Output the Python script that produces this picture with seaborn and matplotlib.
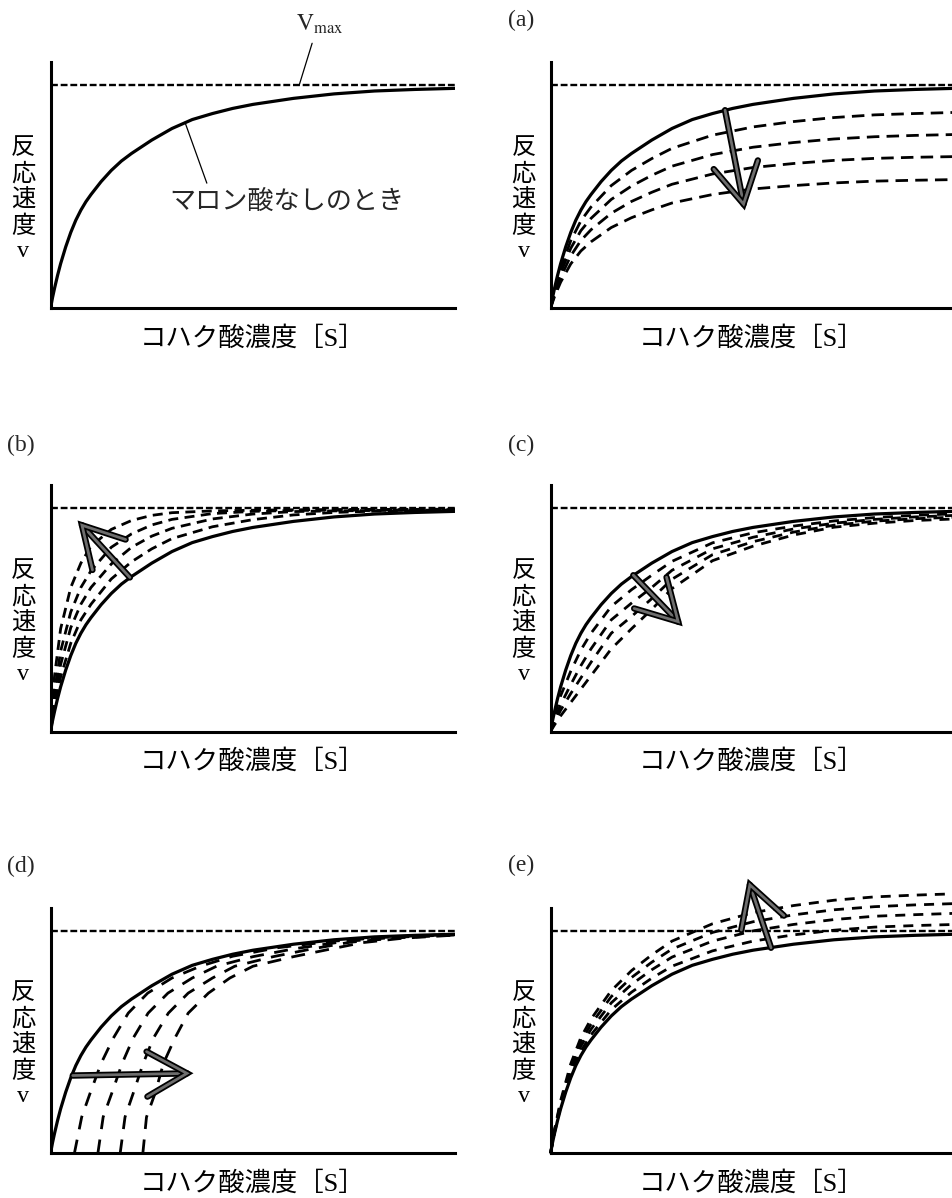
import seaborn as sns
import matplotlib.pyplot as plt
import matplotlib.patheffects as pe

# reference curve (no malonic acid): [S] as fraction of axis width, v with Vmax = 1
BASE_S = [0, 0.005, 0.01, 0.0175, 0.025, 0.0375, 0.05, 0.0625, 0.075, 0.0875, 0.1, 0.125,
          0.15, 0.175, 0.2, 0.25, 0.3, 0.35, 0.4, 0.45, 0.5, 0.6, 0.7, 0.8, 0.9, 1.0]
BASE_V = [0, 0.048, 0.09, 0.148, 0.20, 0.275, 0.34, 0.395, 0.44, 0.478, 0.51, 0.568,
          0.618, 0.66, 0.694, 0.754, 0.806, 0.846, 0.873, 0.896, 0.914, 0.941, 0.961, 0.974, 0.981, 0.986]

# dashed families, read on a coarser grid
S_GRID = [0, 0.01, 0.025, 0.05, 0.075, 0.1, 0.15, 0.2, 0.25, 0.3, 0.4, 0.5, 0.6, 0.7, 0.8, 0.9, 1.0]

# (a) curves drop to lower plateaus
A_CURVES = [
    [0, 0.080, 0.178, 0.303, 0.392, 0.454, 0.550, 0.618, 0.671, 0.717, 0.776, 0.813, 0.837, 0.855, 0.867, 0.873, 0.878],
    [0, 0.071, 0.158, 0.269, 0.348, 0.403, 0.488, 0.548, 0.596, 0.637, 0.689, 0.722, 0.743, 0.759, 0.769, 0.775, 0.779],
    [0, 0.062, 0.138, 0.235, 0.304, 0.352, 0.426, 0.479, 0.520, 0.556, 0.602, 0.631, 0.649, 0.663, 0.672, 0.677, 0.680],
    [0, 0.053, 0.117, 0.199, 0.257, 0.298, 0.362, 0.406, 0.441, 0.472, 0.510, 0.535, 0.550, 0.562, 0.570, 0.574, 0.577],
]
# (b) curves rise faster, same plateau
B_CURVES = [
    [0, 0.25, 0.46, 0.645, 0.754, 0.83, 0.905, 0.945, 0.968, 0.980, 0.988, 0.991, 0.993, 0.994, 0.995, 0.995, 0.996],
    [0, 0.18, 0.36, 0.535, 0.645, 0.72, 0.825, 0.885, 0.925, 0.95, 0.976, 0.986, 0.990, 0.991, 0.992, 0.993, 0.993],
    [0, 0.14, 0.30, 0.465, 0.57, 0.645, 0.75, 0.825, 0.875, 0.91, 0.952, 0.974, 0.985, 0.988, 0.990, 0.991, 0.992],
    [0, 0.11, 0.245, 0.395, 0.50, 0.57, 0.683, 0.76, 0.818, 0.864, 0.917, 0.949, 0.970, 0.981, 0.987, 0.989, 0.990],
]
# (c) curves rise slower
C_CURVES = [
    [0, 0.07, 0.16, 0.27, 0.365, 0.44, 0.56, 0.635, 0.70, 0.762, 0.845, 0.89, 0.92, 0.943, 0.958, 0.968, 0.975],
    [0, 0.05, 0.12, 0.21, 0.295, 0.37, 0.50, 0.575, 0.645, 0.722, 0.818, 0.87, 0.907, 0.933, 0.95, 0.961, 0.968],
    [0, 0.04, 0.095, 0.17, 0.24, 0.31, 0.44, 0.515, 0.595, 0.682, 0.792, 0.85, 0.893, 0.924, 0.942, 0.953, 0.960],
    [0, 0.03, 0.07, 0.13, 0.19, 0.25, 0.37, 0.46, 0.547, 0.64, 0.765, 0.83, 0.88, 0.915, 0.933, 0.945, 0.952],
]
# (d) curves start away from the origin
D_S = [
    [0.059, 0.077, 0.0975, 0.125, 0.155, 0.192, 0.24, 0.30, 0.37, 0.45, 0.56, 0.70, 0.85, 1.0],
    [0.117, 0.130, 0.151, 0.177, 0.204, 0.241, 0.29, 0.35, 0.41, 0.50, 0.60, 0.72, 0.85, 1.0],
    [0.172, 0.184, 0.204, 0.229, 0.254, 0.291, 0.34, 0.40, 0.455, 0.55, 0.64, 0.74, 0.86, 1.0],
    [0.228, 0.237, 0.258, 0.279, 0.307, 0.340, 0.39, 0.443, 0.50, 0.60, 0.68, 0.77, 0.87, 1.0],
]
D_V = [
    [0, 0.163, 0.269, 0.405, 0.518, 0.631, 0.721, 0.789, 0.842, 0.887, 0.925, 0.955, 0.975, 0.985],
    [0, 0.163, 0.269, 0.405, 0.518, 0.631, 0.721, 0.789, 0.842, 0.885, 0.920, 0.952, 0.972, 0.984],
    [0, 0.163, 0.269, 0.405, 0.518, 0.631, 0.721, 0.789, 0.842, 0.885, 0.918, 0.950, 0.970, 0.983],
    [0, 0.163, 0.269, 0.405, 0.518, 0.631, 0.721, 0.789, 0.842, 0.885, 0.915, 0.948, 0.968, 0.982],
]
# (e) curves go above Vmax
E_CURVES = [
    [0, 0.094, 0.209, 0.355, 0.460, 0.533, 0.646, 0.725, 0.788, 0.842, 0.911, 0.955, 0.983, 1.004, 1.018, 1.025, 1.030],
    [0, 0.099, 0.219, 0.372, 0.482, 0.558, 0.677, 0.760, 0.826, 0.883, 0.955, 1.001, 1.030, 1.052, 1.067, 1.074, 1.080],
    [0, 0.103, 0.228, 0.388, 0.502, 0.581, 0.705, 0.791, 0.860, 0.919, 0.994, 1.042, 1.073, 1.096, 1.110, 1.118, 1.124],
    [0, 0.107, 0.237, 0.403, 0.521, 0.604, 0.732, 0.822, 0.893, 0.955, 1.033, 1.083, 1.115, 1.139, 1.154, 1.162, 1.168],
]

YLABEL = "反\n応\n速\n度\nv"
XLABEL = "コハク酸濃度［S］"
PANEL_LABELS = ['(a)', '(b)', '(c)', '(d)', '(e)']

sns.set_theme(style='white')
plt.rcParams['font.family'] = ['Liberation Serif', 'Noto Sans CJK JP']
plt.rcParams['mathtext.fontset'] = 'stix'

fig = plt.figure(figsize=(9.52, 11.98), dpi=100)

W, H = 952, 1198
LEFT = (50.5, 405.0)
RIGHT = (550.5, 401.5)
ROWS = [(62.0, 308.3), (485.0, 731.5), (908.0, 1153.3)]
YMAX = 1.104


def make_axes(col, row):
    x0, w = col
    top, bot = ROWS[row]
    ax = fig.add_axes([x0 / W, (H - bot) / H, w / W, (bot - top) / H])
    ax.set_xlim(0, w / 405.0)
    ax.set_ylim(0, YMAX)
    ax.set_xticks([])
    ax.set_yticks([])
    for side in ['top', 'right']:
        ax.spines[side].set_visible(False)
    for side in ['left', 'bottom']:
        ax.spines[side].set_linewidth(2.2)
        ax.spines[side].set_color('black')
    ax.patch.set_alpha(0)
    ax.axhline(1.0, color='black', lw=1.7, ls=(0, (2.9, 1.2)), zorder=2)
    sns.lineplot(x=BASE_S, y=BASE_V, ax=ax, color='black', lw=2.3, errorbar=None,
                 solid_joinstyle='round', zorder=4)
    ax.text(-0.067, 0.44, YLABEL, transform=ax.transAxes, ha='center', va='center',
            fontsize=17.5, linespacing=1.22, color='black')
    ax.text(0.5, -0.122, XLABEL, transform=ax.transAxes, ha='center', va='center',
            fontsize=19, color='black')
    return ax


def family(ax, xs, ys, dash, clip=True):
    sns.lineplot(x=xs, y=ys, ax=ax, color='black', lw=2.0, linestyle=(0, dash),
                 errorbar=None, clip_on=clip, zorder=3)


def hollow_arrow(ax, base, tip):
    ax.annotate('', xy=tip, xytext=base, xycoords='data', annotation_clip=False,
                arrowprops=dict(arrowstyle='->,head_length=2.4,head_width=1.35',
                                lw=2.0, color='#6e6e6e', shrinkA=0, shrinkB=0,
                                clip_on=False, joinstyle='miter',
                                path_effects=[pe.Stroke(linewidth=4.6, foreground='black'),
                                              pe.Normal()]),
                zorder=6)


# reference panel
ax0 = make_axes(LEFT, 0)
ax0.text(0.665, 1.273, r'$\mathrm{V}_{\mathrm{max}}$', fontsize=17, ha='center', va='center',
         clip_on=False)
ax0.plot([0.646, 0.614], [1.188, 1.0], color='black', lw=0.9, clip_on=False)
ax0.plot([0.332, 0.386], [0.834, 0.561], color='black', lw=0.9)
ax0.text(0.584, 0.476, 'マロン酸なしのとき', fontsize=18.8, ha='center', va='center')

# (a)
ax_a = make_axes(RIGHT, 0)
for vals in A_CURVES:
    family(ax_a, S_GRID, vals, (4.5, 2.6))
hollow_arrow(ax_a, (0.431, 0.888), (0.478, 0.455))

# (b)
ax_b = make_axes(LEFT, 1)
for vals in B_CURVES:
    family(ax_b, S_GRID, vals, (3.6, 2.3))
hollow_arrow(ax_b, (0.196, 0.69), (0.073, 0.933))

# (c)
ax_c = make_axes(RIGHT, 1)
for vals in C_CURVES:
    family(ax_c, S_GRID, vals, (3.6, 2.9))
hollow_arrow(ax_c, (0.2045, 0.70), (0.32, 0.483))

# (d)
ax_d = make_axes(LEFT, 2)
for xs, vals in zip(D_S, D_V):
    family(ax_d, xs, vals, (5.0, 3.8))
hollow_arrow(ax_d, (0.055, 0.35), (0.344, 0.36))

# (e)
ax_e = make_axes(RIGHT, 2)
for vals in E_CURVES:
    family(ax_e, S_GRID, vals, (3.6, 2.9), clip=False)
hollow_arrow(ax_e, (0.5445, 0.925), (0.49, 1.22))

label_pos = [(521, 20), (21, 445), (521, 445), (21, 866), (521, 865)]
for lab, (px, py) in zip(PANEL_LABELS, label_pos):
    fig.text(px / W, 1 - py / H, lab, fontsize=17, ha='center', va='center')

fig.savefig('out.png', dpi=100)
